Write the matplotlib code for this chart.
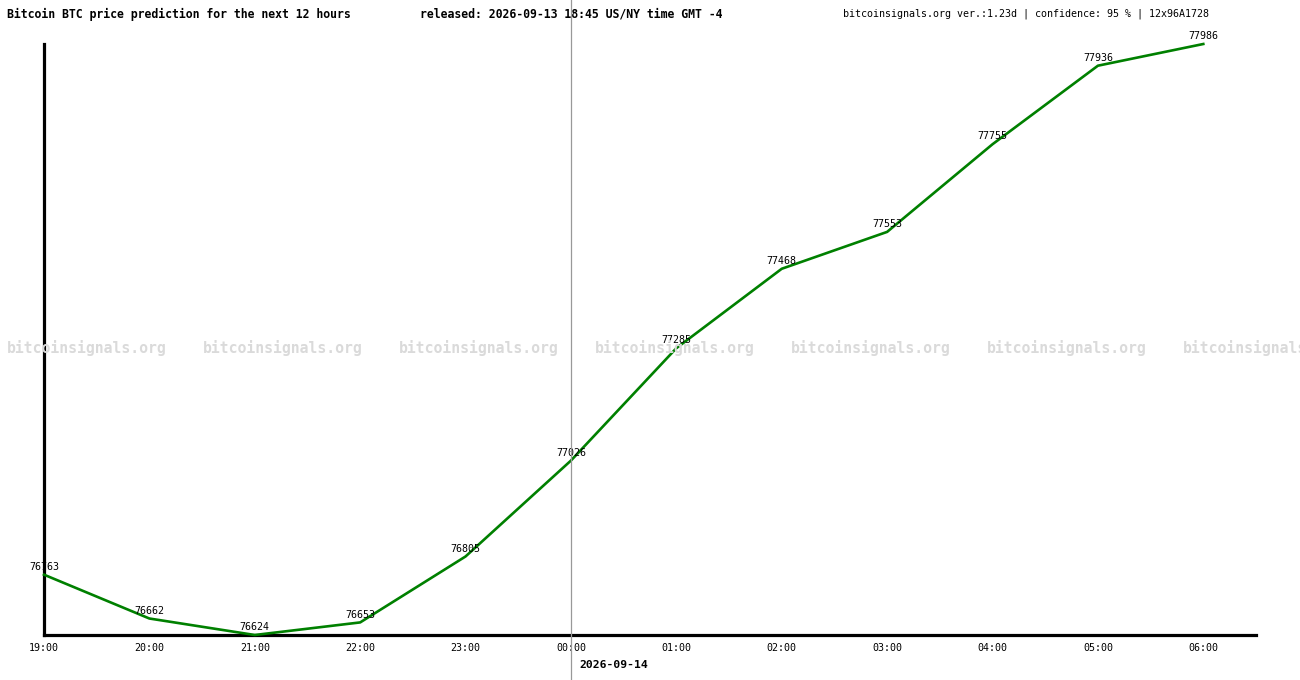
import matplotlib
matplotlib.use("Agg")
import matplotlib.pyplot as plt
import matplotlib.transforms as mtransforms
from matplotlib.lines import Line2D

# data
uren = ["19:00", "20:00", "21:00", "22:00", "23:00", "00:00",
        "01:00", "02:00", "03:00", "04:00", "05:00", "06:00"]
prijzen = [76763, 76662, 76624, 76653, 76805, 77026,
           77285, 77468, 77553, 77755, 77936, 77986]
datum_label = "2026-09-14"
titel = "Bitcoin BTC price prediction for the next 12 hours"
released = "released: 2026-09-13 18:45 US/NY time GMT -4"
info = "bitcoinsignals.org ver.:1.23d | confidence: 95 % | 12x96A1728"
watermerk = "bitcoinsignals.org"

W, H = 1300, 680
plt.rcParams['font.family'] = ['DejaVu Sans Mono']
fig = plt.figure(figsize=(W / 100, H / 100), dpi=100)
fig.patch.set_facecolor("white")

# watermerk achter de grafiek
for k in range(7):
    fig.text((7 + 196 * k) / W, 1 - 348 / H, watermerk, fontsize=10.6,
             fontweight="bold", color="#dadada", ha="left", va="center", zorder=0)

ax = fig.add_axes([44 / W, (H - 635) / H, (1256 - 44) / W, (635 - 44) / H])
ax.patch.set_alpha(0)
x = list(range(len(uren)))
ax.plot(x, prijzen, color="#008000", lw=1.9, solid_joinstyle="round", zorder=3,
        clip_on=False)
for xi, p in zip(x, prijzen):
    ax.annotate(str(p), (xi, p), xytext=(0, 2), textcoords="offset points",
                ha="center", va="bottom", fontsize=7.2, color="black", zorder=4)

ax.set_xlim(0, 11.5)
ax.set_ylim(min(prijzen), max(prijzen))
ax.set_xticks(x)
ax.set_xticklabels(uren, fontsize=7.2)
ax.set_yticks([])
ax.tick_params(axis="x", length=0, pad=6)
for s in ["top", "right"]:
    ax.spines[s].set_visible(False)
for s in ["left", "bottom"]:
    ax.spines[s].set_linewidth(2.3)
    ax.spines[s].set_color("black")

# verticale lijn op middernacht over de hele hoogte
middernacht = uren.index("00:00")
trans = mtransforms.blended_transform_factory(ax.transData, fig.transFigure)
fig.add_artist(Line2D([middernacht, middernacht], [0, 1], transform=trans,
                      color="#999999", lw=0.9, zorder=5))
ax.annotate(datum_label, (middernacht, 0), xycoords=trans, xytext=(6, 7),
            textcoords="offset points", ha="left", va="bottom",
            fontsize=8.2, fontweight="bold")

# kopteksten
fig.text(7 / W, 1 - 14 / H, titel, fontsize=8.3, fontweight="bold",
         ha="left", va="center")
fig.text(420 / W, 1 - 14 / H, released, fontsize=8.3, fontweight="bold",
         ha="left", va="center")
fig.text(843 / W, 1 - 14 / H, info, fontsize=7.2, ha="left", va="center")

fig.savefig("out.png", dpi=100)
